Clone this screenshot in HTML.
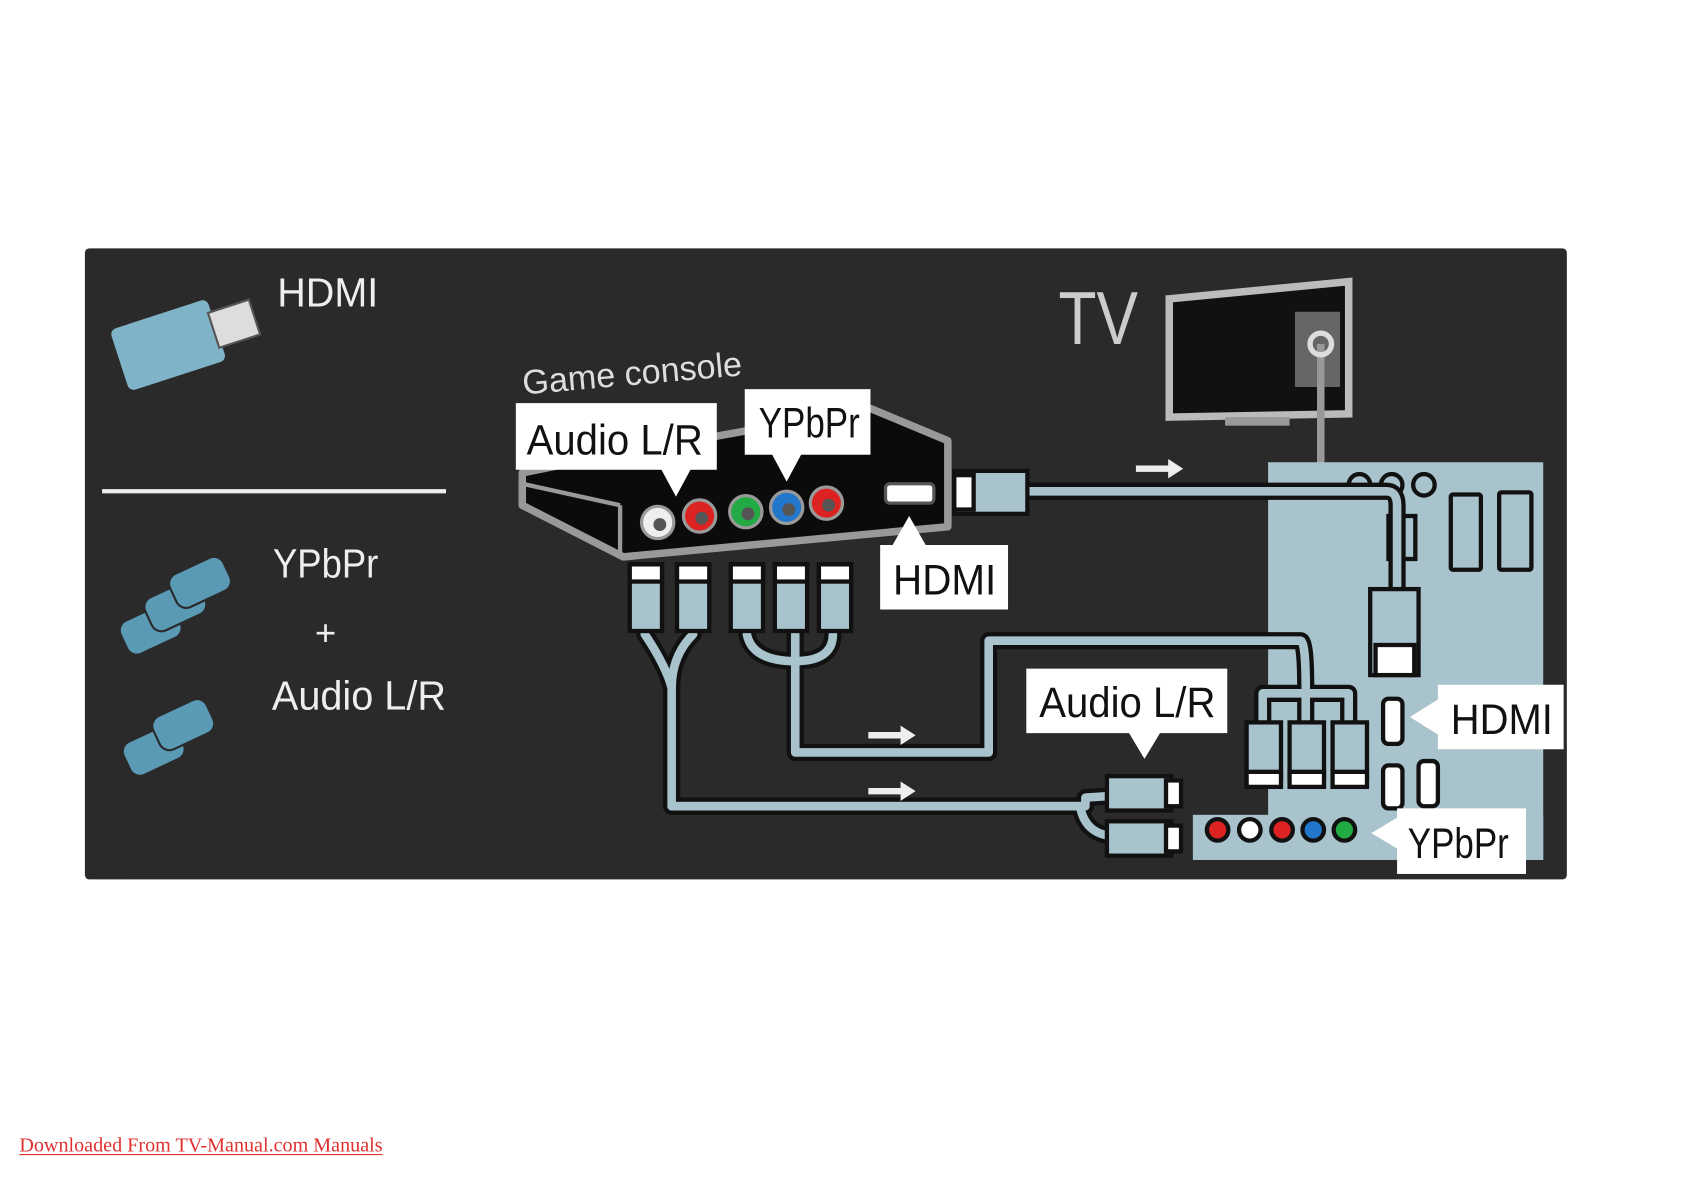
<!DOCTYPE html>
<html><head><meta charset="utf-8"><style>
html,body{margin:0;padding:0;background:#fff;width:1684px;height:1190px;overflow:hidden}
svg{display:block}
text{font-family:"Liberation Sans Narrow","Liberation Sans",sans-serif}
</style></head><body>
<svg width="1684" height="1190" viewBox="0 0 1567 1107" preserveAspectRatio="none" xmlns="http://www.w3.org/2000/svg">
<rect x="79" y="231" width="1379" height="587" rx="4" fill="#2a2a2a"/>
<!-- left legend -->
<text x="258" y="285" font-size="38" fill="#eee" textLength="94" lengthAdjust="spacingAndGlyphs">HDMI</text>
<g transform="rotate(-18 175 315)">
<rect x="108" y="285" width="95" height="60" rx="6" fill="#7fb3c8"/>
<rect x="200" y="298" width="40" height="34" fill="#ddd" stroke="#555" stroke-width="2"/>
</g>
<line x1="95" y1="457" x2="415" y2="457" stroke="#eee" stroke-width="4"/>
<text x="254" y="537" font-size="38" fill="#eee" textLength="98" lengthAdjust="spacingAndGlyphs">YPbPr</text>
<text x="293" y="600" font-size="34" fill="#eee">+</text>
<text x="253" y="660" font-size="38" fill="#eee" textLength="162" lengthAdjust="spacingAndGlyphs">Audio L/R</text>
<g fill="#5a9ab5" stroke="#2a2a2a" stroke-width="2">
<g transform="rotate(-25 180 570)">
<rect x="110" y="550" width="55" height="34" rx="10"/><rect x="140" y="540" width="55" height="34" rx="10"/><rect x="170" y="530" width="55" height="34" rx="10"/>
</g>
<g transform="rotate(-25 165 680)">
<rect x="110" y="670" width="55" height="34" rx="10"/><rect x="145" y="660" width="55" height="34" rx="10"/>
</g>
</g>
<!-- TV -->
<text x="985" y="320" font-size="70" fill="#ccc" textLength="74" lengthAdjust="spacingAndGlyphs">TV</text>
<polygon points="1088,278 1255,262 1255,385 1088,388" fill="#111" stroke="#bbb" stroke-width="7"/>
<rect x="1205" y="290" width="42" height="70" fill="#666"/>
<rect x="1140" y="388" width="60" height="8" fill="#999"/>
<line x1="1229" y1="320" x2="1229" y2="432" stroke="#999" stroke-width="7"/>
<circle cx="1229" cy="320" r="10" fill="none" stroke="#ddd" stroke-width="5"/>
<!-- TV back panel -->
<rect x="1180" y="430" width="256" height="370" fill="#a9c3cd"/>
<rect x="1110" y="758" width="326" height="42" fill="#a9c3cd"/>
<g fill="none" stroke="#111" stroke-width="4">
<circle cx="1265" cy="451" r="10"/><circle cx="1295" cy="451" r="10"/><circle cx="1325" cy="451" r="10"/>
<rect x="1350" y="460" width="28" height="70" rx="2"/><rect x="1395" y="458" width="30" height="72" rx="2"/>
<rect x="1292" y="480" width="25" height="40"/>
</g>
<g fill="#fff" stroke="#111" stroke-width="4">
<rect x="1287" y="650" width="18" height="42" rx="5"/><rect x="1287" y="712" width="18" height="40" rx="5"/><rect x="1320" y="708" width="18" height="42" rx="5"/>
</g>
<g stroke="#111" stroke-width="4">
<circle cx="1133" cy="772" r="10" fill="#d22"/><circle cx="1163" cy="772" r="10" fill="#fff"/><circle cx="1193" cy="772" r="10" fill="#d22"/><circle cx="1222" cy="772" r="10" fill="#27c"/><circle cx="1251" cy="772" r="10" fill="#2a4"/>
</g>
<!-- console -->
<polygon points="486,440 560,425 810,380 882,410 882,490 580,518 486,470" fill="#0b0b0b" stroke="#999" stroke-width="7" stroke-linejoin="round"/>
<line x1="577" y1="470" x2="577" y2="515" stroke="#999" stroke-width="4"/>
<line x1="577" y1="470" x2="486" y2="450" stroke="#999" stroke-width="4"/>
<g stroke="#999" stroke-width="3">
<circle cx="612" cy="486" r="15" fill="#eee"/><circle cx="651" cy="480" r="15" fill="#d22"/><circle cx="694" cy="476" r="15" fill="#2a4"/><circle cx="732" cy="472" r="15" fill="#27c"/><circle cx="769" cy="468" r="15" fill="#d22"/>
</g>
<g fill="#555"><circle cx="614" cy="488" r="6"/><circle cx="653" cy="482" r="6"/><circle cx="696" cy="478" r="6"/><circle cx="734" cy="474" r="6"/><circle cx="771" cy="470" r="6"/></g>
<rect x="824" y="450" width="45" height="18" rx="4" fill="#fff" stroke="#555" stroke-width="3"/>
<text x="487" y="367" font-size="32" fill="#ddd" transform="rotate(-5 487 367)" textLength="205" lengthAdjust="spacingAndGlyphs">Game console</text>
<!-- cables -->
<g fill="none" stroke-linejoin="round" stroke-linecap="round">
<g stroke="#111" stroke-width="16">
<path d="M935 457 L1290 457 Q1300 457 1300 470 L1300 555"/>
<path d="M600 590 Q620 620 625 640 L625 750 L1010 750 L1010 742 L1040 740"/>
<path d="M645 590 Q625 610 625 640"/>
<path d="M625 750 L1005 750 Q1010 778 1040 778"/>
<path d="M740 590 L740 700 L920 700 L920 596 L1210 596 Q1215 596 1215 640"/>
<path d="M695 590 Q700 615 740 615 Q775 615 775 590"/>
<path d="M1175 680 L1175 645 L1255 645 L1255 680 M1215 645 L1215 680"/>
</g>
<g stroke="#a9c3cd" stroke-width="8">
<path d="M935 457 L1290 457 Q1300 457 1300 470 L1300 555"/>
<path d="M600 590 Q620 620 625 640 L625 750 L1010 750 L1010 742 L1040 740"/>
<path d="M645 590 Q625 610 625 640"/>
<path d="M625 750 L1005 750 Q1010 778 1040 778"/>
<path d="M740 590 L740 700 L920 700 L920 596 L1210 596 Q1215 596 1215 640"/>
<path d="M695 590 Q700 615 740 615 Q775 615 775 590"/>
<path d="M1175 680 L1175 645 L1255 645 L1255 680 M1215 645 L1215 680"/>
</g>
</g>
<!-- plugs -->
<g stroke="#111" stroke-width="4">
<rect x="888" y="438" width="68" height="40" fill="#a9c3cd"/><rect x="888" y="442" width="18" height="32" fill="#fff"/>
<rect x="1275" y="548" width="45" height="80" fill="#a9c3cd"/><rect x="1280" y="600" width="36" height="28" fill="#fff"/>
<g fill="#a9c3cd">
<rect x="586" y="525" width="30" height="62"/><rect x="630" y="525" width="30" height="62"/><rect x="680" y="525" width="30" height="62"/><rect x="721" y="525" width="30" height="62"/><rect x="762" y="525" width="30" height="62"/>
<rect x="1160" y="672" width="32" height="52"/><rect x="1200" y="672" width="32" height="52"/><rect x="1240" y="672" width="32" height="52"/>
<rect x="1030" y="722" width="60" height="32"/><rect x="1030" y="764" width="60" height="32"/>
</g>
<g fill="#fff">
<rect x="586" y="525" width="30" height="16"/><rect x="630" y="525" width="30" height="16"/><rect x="680" y="525" width="30" height="16"/><rect x="721" y="525" width="30" height="16"/><rect x="762" y="525" width="30" height="16"/>
<rect x="1160" y="718" width="32" height="14"/><rect x="1200" y="718" width="32" height="14"/><rect x="1240" y="718" width="32" height="14"/>
<rect x="1085" y="726" width="14" height="24"/><rect x="1085" y="768" width="14" height="24"/>
</g>
</g>
<!-- arrows -->
<g fill="#eee">
<path d="M1057 433 h30 v-6 l14 9 -14 9 v-6 h-30z"/>
<path d="M808 681 h30 v-6 l14 9 -14 9 v-6 h-30z"/>
<path d="M808 733 h30 v-6 l14 9 -14 9 v-6 h-30z"/>
</g>
<!-- labels -->
<g fill="#fff">
<rect x="480" y="375" width="187" height="62"/><polygon points="615,436 643,436 629,462"/>
<rect x="693" y="362" width="117" height="61"/><polygon points="718,422 746,422 732,448"/>
<rect x="819" y="507" width="119" height="60"/><polygon points="830,508 862,508 846,480"/>
<rect x="955" y="622" width="187" height="60"/><polygon points="1050,681 1080,681 1065,706"/>
<rect x="1338" y="637" width="117" height="60"/><polygon points="1339,650 1339,684 1312,667"/>
<rect x="1300" y="752" width="120" height="61"/><polygon points="1301,760 1301,790 1276,775"/>
</g>
<g fill="#111" font-size="40">
<text x="490" y="423" textLength="164" lengthAdjust="spacingAndGlyphs">Audio L/R</text>
<text x="706" y="407" textLength="94" lengthAdjust="spacingAndGlyphs">YPbPr</text>
<text x="831" y="553" textLength="96" lengthAdjust="spacingAndGlyphs">HDMI</text>
<text x="967" y="667" textLength="164" lengthAdjust="spacingAndGlyphs">Audio L/R</text>
<text x="1350" y="683" textLength="95" lengthAdjust="spacingAndGlyphs">HDMI</text>
<text x="1310" y="798" textLength="94" lengthAdjust="spacingAndGlyphs">YPbPr</text>
</g>
<text x="18" y="1071" font-size="19" fill="#e03030" style="font-family:'Liberation Serif',serif" textLength="338" lengthAdjust="spacingAndGlyphs">Downloaded From TV-Manual.com Manuals</text>
<line x1="18" y1="1074" x2="356" y2="1074" stroke="#e03030" stroke-width="1"/>
</svg>
</body></html>
